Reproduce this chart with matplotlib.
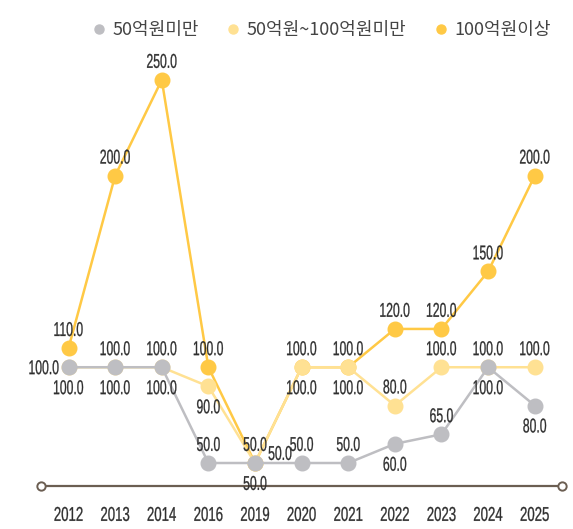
import matplotlib.pyplot as plt
from matplotlib.lines import Line2D
from matplotlib.textpath import TextPath
from matplotlib.patches import PathPatch
from matplotlib.font_manager import FontProperties
from matplotlib.transforms import Affine2D, ScaledTranslation

years = ['2012', '2013', '2014', '2016', '2019', '2020', '2021', '2022', '2023', '2024', '2025']
small = [100, 100, 100, 50, 50, 50, 50, 60, 65, 100, 80]
mid = [100, 100, 100, 90, 50, 100, 100, 80, 100, 100, 100]
large = [110, 200, 250, 100, 50, 100, 100, 120, 120, 150, 200]
names = ['50억원미만', '50억원~100억원미만', '100억원이상']

# where each value label sits relative to its point
small_pos = ['down', 'down', 'down', 'up', 'down', 'up', 'up', 'down', 'up', 'down', 'down']
mid_pos = ['left', 'up', 'up', 'down', 'right', 'down', 'down', 'up', 'up', 'up', 'up']
large_pos = ['up'] * 11

colors = ['#BEBEC2', '#FFE193', '#FFC945']
txt_color = '#2E2E2E'
# pixel offsets of the label centre (right edge for 'left')
offsets = {'up': (0, 19, 'center'), 'down': (0, -20, 'center'),
           'left': (-10, 0, 'right'), 'right': (25, 10, 'center')}

fig = plt.figure(figsize=(5.73, 5.29), dpi=100)
ax = fig.add_axes([0.0724, 0.0813, 0.908, 0.811])
num_prop = FontProperties(family='Liberation Sans')


def narrow_text(s, x, y, dx, dy, ha='center', size=20, sx=0.61):
    # condensed digits: a text path squeezed horizontally, placed in pixels from a data point
    tp = TextPath((0, 0), s, size=size, prop=num_prop)
    ext = tp.get_extents()
    if ha == 'right':
        x0 = -ext.x1 * sx
    else:
        x0 = -(ext.x0 + ext.width / 2) * sx
    y0 = -(ext.y0 + ext.height / 2)
    tr = Affine2D().scale(sx, 1).translate(x0 + dx, y0 + dy) + ScaledTranslation(x, y, ax.transData)
    fig.add_artist(PathPatch(tp, transform=tr, facecolor=txt_color, edgecolor=txt_color,
                             lw=0.2, zorder=6))


x = list(range(len(years)))
series = [(large, large_pos, colors[2], 2), (mid, mid_pos, colors[1], 3), (small, small_pos, colors[0], 4)]
for vals, pos, c, z in series:
    ax.plot(x, vals, color=c, lw=1.8, marker='o', ms=10.5, zorder=z)

for vals, pos, c, z in series:
    for xi, v, p in zip(x, vals, pos):
        dx, dy, ha = offsets[p]
        narrow_text(f'{v:.1f}', xi, v, dx, dy, ha)

ymin, ymax = 38, 262
ax.set_xlim(-0.58, 10.58)
ax.set_ylim(ymin, ymax)
ax.plot([-0.58, 10.58], [ymin, ymin], color='#6B5E52', lw=1.6, marker='o', ms=6,
        mfc='white', mew=1.4, clip_on=False, zorder=1)
for s in ax.spines.values():
    s.set_visible(False)
ax.set_yticks([])
ax.set_xticks([])
for xi, yr in zip(x, years):
    narrow_text(yr, xi, ymin, 0, -28, size=20, sx=0.66)

handles = [Line2D([], [], ls='none', marker='o', ms=6.5, color=c) for c in colors]
fig.legend(handles, names, loc='center right', bbox_to_anchor=(0.99, 0.943), ncol=3,
           frameon=False, handlelength=0.8, handletextpad=0.35, columnspacing=1.5,
           prop={'family': ['Noto Sans CJK KR', 'DejaVu Sans'], 'size': 13},
           labelcolor='#444444')

fig.savefig('out.png', dpi=100)
